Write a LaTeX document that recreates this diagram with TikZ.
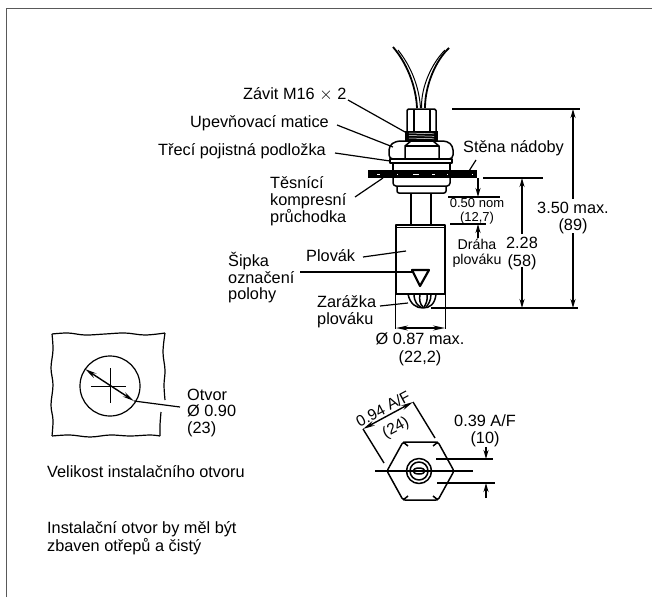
\documentclass[tikz,border=0pt]{standalone}
\usepackage{fontspec}
\setmainfont{Liberation Sans}
\usetikzlibrary{arrows.meta,positioning,calc}
\tikzset{
    lbl/.style={font=\fontsize{16.3}{16.5}\selectfont, align=left, inner sep=0pt},
    lblc/.style={font=\fontsize{16.3}{17.5}\selectfont, align=center, inner sep=0pt},
    small/.style={font=\fontsize{13}{14}\selectfont, align=center, inner sep=0pt},
    leader/.style={line width=1.2pt},
    part/.style={line width=1.5pt, line join=round},
    dimline/.style={line width=1.4pt},
    dimarrow/.style={line width=1.4pt, -{Stealth[length=9pt,width=5pt]}},
    bothends/.style={line width=1.4pt, {Stealth[length=12pt,width=5pt]}-{Stealth[length=12pt,width=5pt]}},
}
\begin{document}
\begin{tikzpicture}[x=1pt,y=-1pt]
    \useasboundingbox (0,0) rectangle (652,597);
    \fill[white] (0,0) rectangle (652,597);

    % Frame
    \draw[black!65, line width=1.4pt] (6.5,597) -- (6.5,8.5) -- (652,8.5);

    % Wires
    \draw[part, line width=1.8pt] (393,47) .. controls (406,62) and (416,85) .. (417,108);
    \draw[part, line width=1pt] (398,50) .. controls (410,65) and (419,85) .. (420.5,108);
    \draw[part, line width=1.8pt] (449,48) .. controls (436,60) and (425,85) .. (425,108);
    \draw[part, line width=1pt] (445,50) .. controls (433,62) and (421,85) .. (421.5,108);

    % Top nut and thread
    \draw[part, rounded corners=1.5pt] (407,131) -- (407,109) -- (436,109) -- (436,131);
    \draw[part] (414,109) -- (414,131) (430,109) -- (430,131);
    \fill (405,131) rectangle (438,141);
    \foreach \yy in {133,135.5,138}
        \draw[white, line width=0.5pt] (409,\yy) -- (434,\yy+0.8);

    % Hex nut and washer
    \draw[part, rounded corners=4pt] (389,159) -- (389,146) -- (396,141) -- (447,141) -- (453,146) -- (453,159) -- cycle;
    \draw[part] (405,159) -- (405,146) -- (411,141) (439,159) -- (439,146) -- (433,141);
    \draw[part] (405,146) -- (439,146);
    \draw[part] (390,159) rectangle (452,163);
    \draw[part] (393,163) -- (393,170) (450,163) -- (450,170);

    % Tank wall
    \fill (368,170) rectangle (477,178);
    \foreach \xx/\ww in {377/3,397/1,413/5,416/3,432/3,447/1,472/1}
        \draw[white, line width=0.8pt] (\xx,174) -- ++(\ww,0);

    % Grommet and stem
    \draw[part, rounded corners=3pt] (393,178) -- (393,186) -- (450,186) -- (450,178);
    \draw[part, rounded corners=2pt] (397,186) -- (397,193) -- (446,193) -- (446,186);
    \draw[part, line width=1.7pt] (411,193) -- (411,225) (431,193) -- (431,225);

    % Float
    \draw[part, line width=1.7pt] (396,225) rectangle (445,294);
    \draw[part] (396,227.5) -- (445,227.5);
    \draw[line width=2.2pt, line join=round] (412,270) -- (429,270) -- (420,286) -- cycle;

    % Float stop
    \draw[part] (408,294) .. controls (410,304) and (416,308) .. (423,308) .. controls (430,308) and (435,304) .. (436,294);
    \draw[part] (414,294) .. controls (414,302) and (418,306) .. (421,307);
    \draw[part] (420,294) .. controls (419,300) and (420,304) .. (423,307);
    \draw[part] (427,294) .. controls (428,300) and (426,304) .. (424,307);
    \draw[part] (431,294) .. controls (431,301) and (428,305) .. (426,307);

    % Left labels
    \node[lbl, anchor=west] (zavit) at (243,94) {Závit M16 $\times$ 2};
    \node[lbl, anchor=west] (matice) at (190,123) {Upevňovací matice};
    \node[lbl, anchor=west] (podlozka) at (158,151) {Třecí pojistná podložka};
    \node[lbl, anchor=north west] (pruchodka) at (270,176.5) {Těsnící\\kompresní\\průchodka};
    \node[lbl, anchor=west] (plovak) at (306,256) {Plovák};
    \node[lbl, anchor=north west] (sipka) at (228,252.5) {Šipka\\označení\\polohy};
    \node[lbl, anchor=north west] (zarazka) at (317,295.5) {Zarážka\\plováku};

    % Leaders
    \coordinate (zavitend) at (405,132);
    \coordinate (maticeend) at (393,147);
    \coordinate (podlozkaend) at (390,161);
    \coordinate (pruchodkaend) at (383,178);
    \coordinate (plovakend) at (406,251);
    \coordinate (sipkaend) at (412,272);
    \coordinate (zarazkaend) at (408,303);
    \draw[leader] (348,100) -- (zavitend);
    \draw[leader] (337,125) -- (maticeend);
    \draw[leader] (335,153) -- (podlozkaend);
    \draw[leader] (355,197) -- (pruchodkaend);
    \draw[leader] (363,257) -- (plovakend);
    \draw[leader] (300,272) -- (sipkaend);
    \draw[leader] (380,306) -- (zarazkaend);

    % Diameter of float
    \draw[dimline] (395.5,294) -- (395.5,329) (445.5,294) -- (445.5,329);
    \draw[bothends] (396,328) -- (445,328);
    \node[lblc] (durfloat) at (420,349.5) {Ø 0.87 max.\\(22,2)};

    % Tank wall label
    \node[lbl, anchor=west] (stena) at (463,148) {Stěna nádoby};
    \draw[leader] (476,160) -- (469,171);

    % Extension lines
    \draw[dimline] (452,109) -- (580,109);
    \draw[dimline] (483,178) -- (543,178);
    \draw[dimline] (431,308) -- (578,308);
    \draw[dimline] (448,197) -- (500,197);
    \draw[dimline] (450,224) -- (486,224);

    % 3.50 max
    \node[lblc] (maxlbl) at (573,218) {3.50 max.\\(89)};
    \draw[dimarrow] (maxlbl.north -| 573,109) ++(0,-3) -- (573,109);
    \draw[dimarrow] (maxlbl.south -| 573,308) ++(0,-1) -- (573,308);

    % 2.28
    \node[lblc] (travel) at (522,253.5) {2.28\\(58)};
    \draw[dimarrow] (travel.north -| 522,178) ++(0,-3) -- (522,178);
    \draw[dimarrow] (travel.south -| 522,308) ++(0,-3) -- (522,308);

    % 0.50 nom
    \node[small] (nom) at (477,211.5) {0.50 nom\\(12,7)};
    \draw[dimarrow] (478,178) -- (478,197);
    \draw[dimarrow] (478,238) -- (478,224);
    \node[font=\fontsize{14.2}{15}\selectfont, align=center, inner sep=0pt] (draha) at (477,253.5) {Dráha\\plováku};

    % Mounting hole
    \draw[part, line width=1.2pt] plot[smooth, tension=0.6] coordinates {(165,400) (164,385) (165,370) (163,352) (165,333)};
    \draw[part, line width=1.2pt] plot[smooth, tension=0.6] coordinates {(165,333) (145,335) (125,333) (105,334) (85,335) (68,333) (52,334)};
    \draw[part, line width=1.2pt] plot[smooth, tension=0.6] coordinates {(52,334) (53,350) (51,368) (53,385) (51,405) (53,420) (52,436)};
    \draw[part, line width=1.2pt] plot[smooth, tension=0.6] coordinates {(52,436) (70,435) (90,437) (110,435) (130,436) (150,435) (160,436)};
    \draw[part, line width=1.2pt] plot[smooth, tension=0.6] coordinates {(160,436) (160,425) (161,412)};
    \draw[part, line width=1.2pt] (110,386) circle (30);
    \draw[line width=1pt] (91,386) -- (126,386) (110,368) -- (110,403);
    \coordinate (holeA) at (85,369);
    \coordinate (holeB) at (134,401);
    \draw[bothends] (holeA) -- (holeB);
    \node[lbl, anchor=north west] (otvor) at (187,388.5) {Otvor\\Ø 0.90\\(23)};
    \draw[leader] (holeB) -- (180,407);

    % Notes
    \node[lbl, anchor=west] (velikost) at (47,472) {Velikost instalačního otvoru};
    \node[lbl, anchor=north west] (note) at (47,521.5) {Instalační otvor by měl být\\zbaven otřepů a čistý};

    % Hex view
    \draw[part, rounded corners=2pt] (387,471) -- (403,442) -- (438,442) -- (454,471) -- (438,500) -- (403,500) -- cycle;
    \draw[part] (392,471) -- (387,471) (438,442) -- (433,446) (403,442) -- (408,446) (438,500) -- (433,496) (403,500) -- (408,496) (454,471) -- (449,471);
    \draw[part] (419,471) circle (12.5);
    \draw[part] (419,471) circle (9);
    \draw[part, fill=white] (419,471) ellipse (6 and 3);
    \draw[line width=1.2pt] (375,471) -- (473,471);
    \draw[dimline] (436,459) -- (493,459) (437,483) -- (495,483);
    \draw[dimarrow] (486,447) -- (486,459);
    \draw[dimarrow] (486,498) -- (486,483);
    \node[lblc] (flatslbl) at (485,431) {0.39 A/F\\(10)};

    % Across flats
    \coordinate (flatA) at (363,429);
    \coordinate (flatB) at (413,402);
    \draw[dimline] (flatA) -- (384,463) (flatB) -- (435,438);
    \draw[bothends] (flatA) -- (flatB);
    \node[font=\fontsize{15.5}{16}\selectfont, inner sep=0pt, rotate=28] (aflbl) at (383,408.5) {0.94 A/F};
    \node[font=\fontsize{15.5}{16}\selectfont, inner sep=0pt, rotate=28] (aflbl2) at (396,428) {(24)};
\end{tikzpicture}
\end{document}
